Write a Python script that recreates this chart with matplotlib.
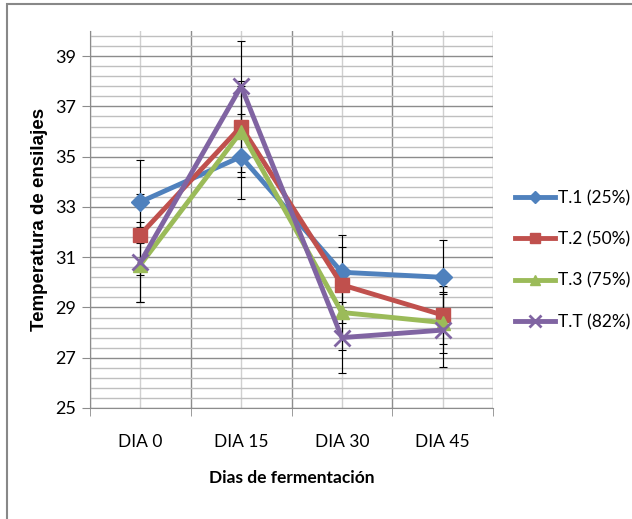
import matplotlib.pyplot as plt
import numpy as np
from matplotlib.patches import Rectangle

dias = ['DIA 0', 'DIA 15', 'DIA 30', 'DIA 45']
t1 = [33.2, 35.0, 30.4, 30.2]
t2 = [31.9, 36.2, 29.9, 28.7]
t3 = [30.7, 36.0, 28.8, 28.4]
tt = [30.8, 37.8, 27.8, 28.1]
e1 = [1.65, 1.7, 1.5, 1.5]
e2 = [1.6, 1.8, 1.5, 1.15]
e3 = [1.5, 1.8, 1.5, 1.2]
et = [1.6, 1.8, 1.4, 1.45]
nombres = ['T.1 (25%)', 'T.2 (50%)', 'T.3 (75%)', 'T.T (82%)']

plt.rcParams['font.family'] = ['Lato', 'DejaVu Sans']

fig = plt.figure(figsize=(6.32, 5.19), dpi=100)
fig.patches.append(Rectangle((7/632, -0.1), 1, 1.1 - 4/519, transform=fig.transFigure,
                             fill=False, edgecolor='#888888', lw=1.5))
ax = fig.add_axes([90/632, 1 - 408/519, 403/632, 377/519])

x = np.arange(len(dias))
series = [(t1, e1, '#4F81BD', 'D', 9), (t2, e2, '#C0504D', 's', 10),
          (t3, e3, '#9BBB59', '^', 10), (tt, et, '#8064A2', 'x', 12)]
for (y, e, c, m, ms), nom in zip(series, nombres):
    ax.errorbar(x, y, yerr=e, fmt='none', ecolor='black', elinewidth=0.8,
                capsize=3, capthick=0.8, zorder=2)
    ax.plot(x, y, color=c, lw=3.5, marker=m, ms=ms, mew=2 if m == 'x' else 1,
            label=nom, zorder=3)

ax.set_xlim(-0.5, 3.5)
ax.set_ylim(25, 40)
ax.set_yticks(np.arange(25, 40, 2))
ax.set_yticks(np.arange(25, 40.01, 0.4), minor=True)
ax.set_xticks(x)
ax.set_xticklabels(dias)
ax.set_xticks(np.arange(-0.5, 3.6, 1), minor=True)
ax.grid(which='major', axis='y', color='#8c8c8c', lw=1)
ax.grid(which='minor', axis='y', color='#bfbfbf', lw=1)
ax.grid(which='minor', axis='x', color='#8c8c8c', lw=1)
ax.grid(which='major', axis='x', color='#d0d0d0', lw=1)
ax.set_axisbelow(True)
ax.tick_params(axis='y', which='major', length=6, color='#8c8c8c', labelsize=13, pad=4)
ax.tick_params(axis='y', which='minor', length=0)
ax.tick_params(axis='x', which='major', length=0, labelsize=12.5, pad=19)
ax.tick_params(axis='x', which='minor', length=6, color='#8c8c8c')
for s in ['top', 'right']:
    ax.spines[s].set_visible(False)
ax.spines['left'].set_color('#8c8c8c')
ax.spines['bottom'].set_color('#8c8c8c')

ax.set_ylabel('Temperatura de ensilajes', fontsize=13.5, fontweight='bold',
              family=['Liberation Sans', 'DejaVu Sans'], labelpad=5)
ax.set_xlabel('Dias de fermentación', fontsize=12.5, fontweight='bold', labelpad=14)

fig.legend(loc='center left', bbox_to_anchor=(515/632, 1 - 260/519), frameon=False,
           fontsize=12.5, labelspacing=1.45, handlelength=2.3, handletextpad=0.2,
           borderpad=0, borderaxespad=0, markerscale=0.7)

plt.savefig('out.png')
